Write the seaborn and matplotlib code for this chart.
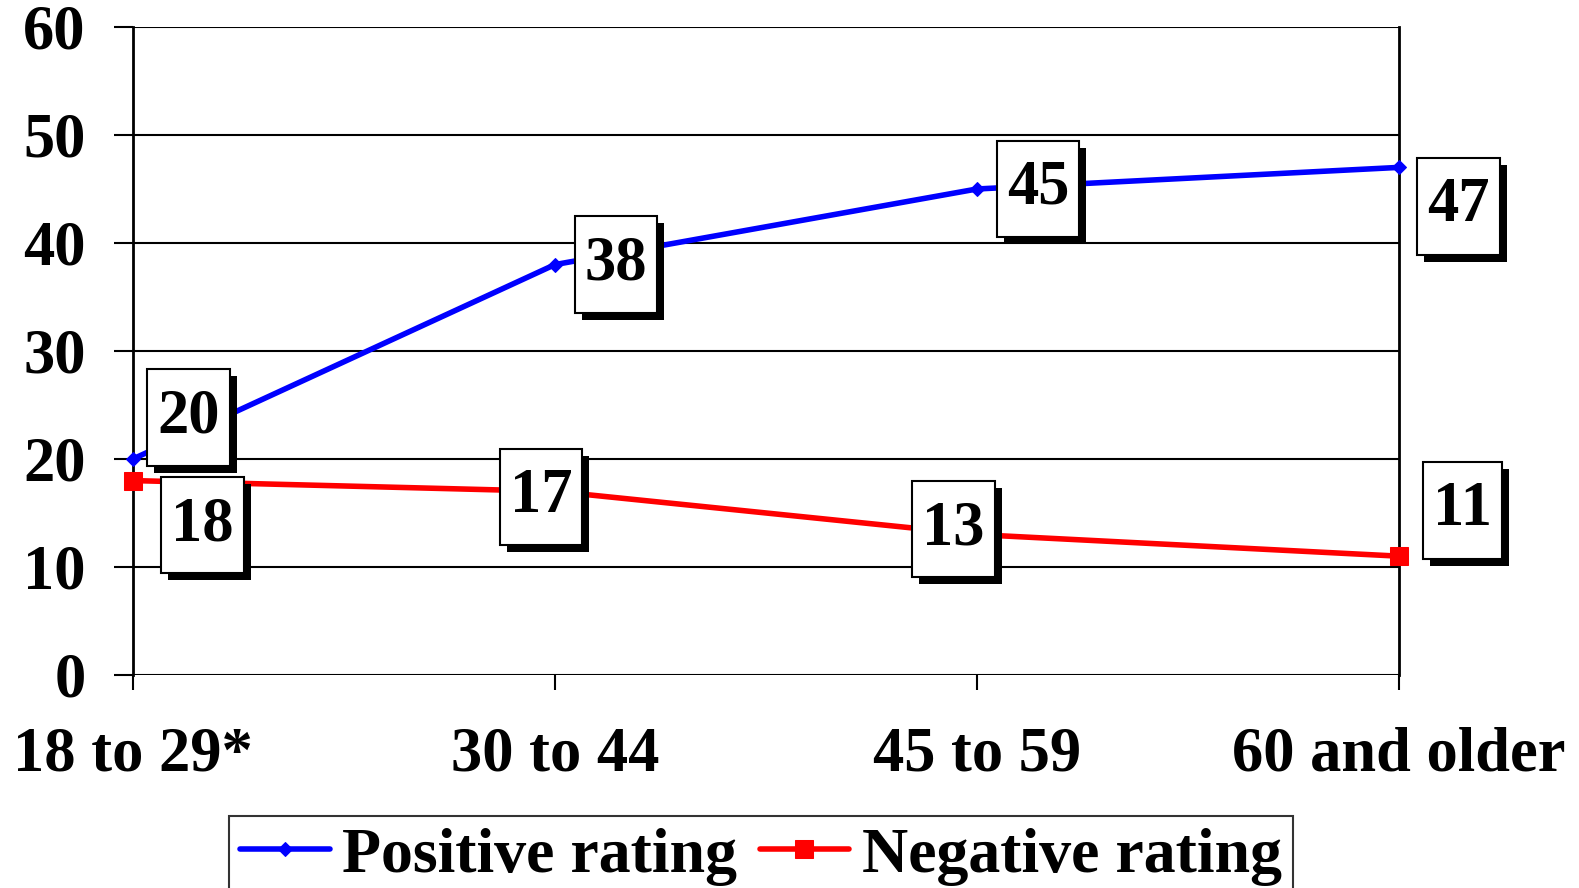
import pandas as pd
import matplotlib
matplotlib.use("Agg")
import matplotlib.pyplot as plt
import matplotlib.patheffects as pe
from matplotlib.path import Path
import seaborn as sns

# Data
age_groups = ["18 to 29*", "30 to 44", "45 to 59", "60 and older"]
positive = [20, 38, 45, 47]
negative = [18, 17, 13, 11]

# label offsets in points (dx, dy) from each point
pos_offsets = [(40, 30), (44, 0), (44, 0), (43, -28)]
neg_offsets = [(50, -32), (-10, -4), (-17, 4), (46, 33)]

sns.set_style("white")
plt.rcParams['font.family'] = ['Liberation Serif', 'DejaVu Serif']
plt.rcParams['font.weight'] = 'bold'
plt.rcParams['text.color'] = 'black'
plt.rcParams['xtick.color'] = 'black'
plt.rcParams['ytick.color'] = 'black'

FS = 45


def tall_box(x0, y0, width, height, mutation_size):
    # square box, more padding top/bottom than left/right
    px = 0.16 * mutation_size
    py = 0.31 * mutation_size
    x0, y0 = x0 - px, y0 - py
    x1, y1 = x0 + width + 2 * px, y0 + height + 2 * py
    return Path([(x0, y0), (x1, y0), (x1, y1), (x0, y1), (x0, y0)], closed=True)


df = pd.DataFrame({
    'x': list(range(len(age_groups))) * 2,
    'value': positive + negative,
    'series': ['Positive rating'] * 4 + ['Negative rating'] * 4,
})

fig = plt.figure(figsize=(15.79, 8.88), dpi=100)
ax = fig.add_axes([0.0842, 0.2399, 0.8018, 0.7297])

sns.lineplot(data=df[df['series'] == 'Positive rating'], x='x', y='value',
             color='#0000ff', lw=4, marker='D', markersize=7,
             markeredgecolor='#0000ff', ax=ax, zorder=3, label='Positive rating',
             clip_on=False)
sns.lineplot(data=df[df['series'] == 'Negative rating'], x='x', y='value',
             color='#ff0000', lw=4, marker='s', markersize=20,
             markeredgecolor='#ff0000', ax=ax, zorder=3, label='Negative rating',
             clip_on=False)

ax.set_xlim(0, 3)
ax.set_ylim(0, 60)
ax.set_yticks(range(0, 61, 10))
ax.set_xticks(range(len(age_groups)))
ax.set_xticklabels(age_groups)
ax.set_xlabel("")
ax.set_ylabel("")
ax.yaxis.grid(True, color='black', lw=1.5)
ax.set_axisbelow(True)

for s in ['left', 'right']:
    ax.spines[s].set_visible(True)
    ax.spines[s].set_color('black')
    ax.spines[s].set_linewidth(2)
ax.spines['top'].set_visible(False)
ax.spines['bottom'].set_visible(False)

ax.tick_params(axis='y', direction='out', length=14, width=1.5, color='black',
               pad=20, labelsize=FS, left=True, labelcolor='black')
ax.tick_params(axis='x', direction='out', length=11, width=1.5, color='black',
               pad=26, labelsize=FS, bottom=True, labelcolor='black')
for lab in ax.get_xticklabels() + ax.get_yticklabels():
    lab.set_fontweight('bold')

shadow = [pe.withSimplePatchShadow(offset=(5, -5), shadow_rgbFace='black', alpha=1.0)]
for vals, offs in [(positive, pos_offsets), (negative, neg_offsets)]:
    for i, (v, (dx, dy)) in enumerate(zip(vals, offs)):
        t = ax.annotate(str(v), xy=(i, v), xytext=(dx, dy), textcoords='offset points',
                        ha='center', va='center', fontsize=FS, fontweight='bold',
                        color='black',
                        bbox=dict(boxstyle='square', fc='white', ec='black', lw=1.5),
                        zorder=5, annotation_clip=False)
        t.get_bbox_patch().set_boxstyle(tall_box)
        t.get_bbox_patch().set_path_effects(shadow)

handles, labels = ax.get_legend_handles_labels()
handles[1].set_markersize(13)
leg = fig.legend(handles, labels, loc='upper center', bbox_to_anchor=(0.482, 0.081),
                 ncol=2, frameon=True, fancybox=False, edgecolor='black',
                 handlelength=1.4, handletextpad=0.2, columnspacing=0.35,
                 borderpad=0.17, borderaxespad=0,
                 prop={'weight': 'bold', 'size': 46})
leg.get_frame().set_linewidth(1.5)
if ax.get_legend() is not None:
    ax.get_legend().remove()

fig.savefig("out.png", dpi=100)
